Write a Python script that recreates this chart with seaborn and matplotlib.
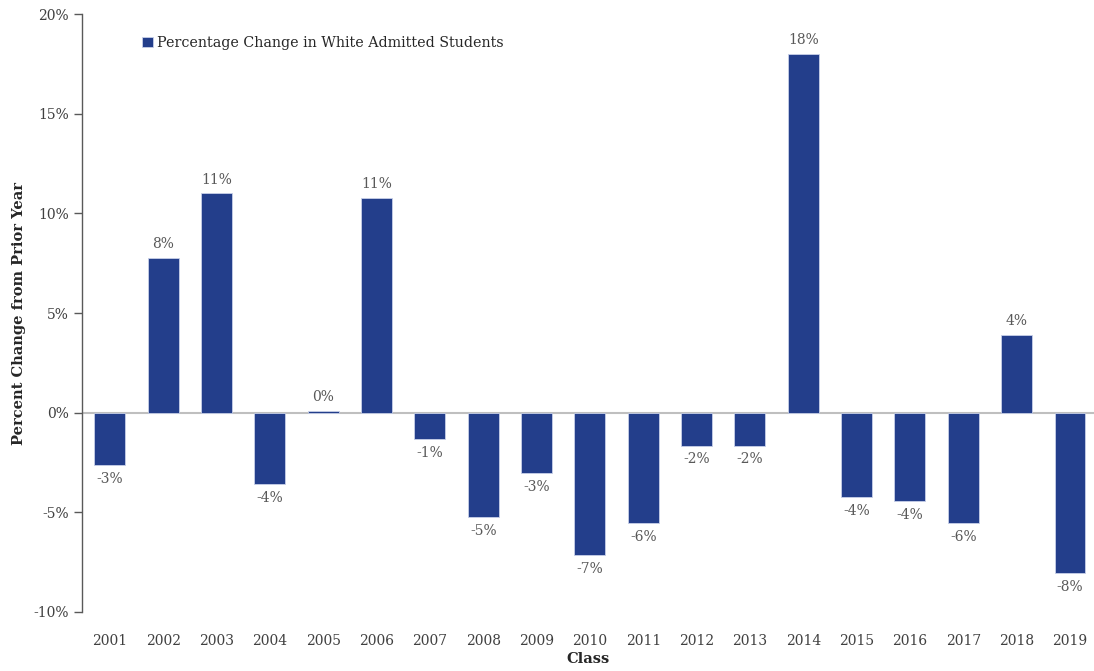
import numpy as np
import pandas as pd
import seaborn as sns
import matplotlib.pyplot as plt
from matplotlib.ticker import FuncFormatter

# data
years = [str(y) for y in range(2001, 2020)]
pct_change = [-2.65, 7.75, 11.0, -3.6, 0.1, 10.75, -1.3, -5.25, -3.05, -7.15,
              -5.55, -1.65, -1.65, 18.0, -4.25, -4.45, -5.55, 3.9, -8.05]
y_ticks = [-10, -5, 0, 5, 10, 15, 20]

BAR_COLOR = "#233e8b"
TEXT_COLOR = "#404040"
LABEL_COLOR = "#595959"

sns.set_theme(style="white")
plt.rcParams['font.family'] = ['DejaVu Serif', 'Liberation Serif']

df = pd.DataFrame({"Class": years, "Change": pct_change})

fig = plt.figure(figsize=(10.94, 6.71), dpi=100)
ax = fig.add_axes([0.075, 0.088, 0.925, 0.891])

sns.barplot(data=df, x="Class", y="Change", order=years, color=BAR_COLOR,
            width=0.58, edgecolor="#c8d0e8", linewidth=0.6, saturation=1,
            label="Percentage Change in White Admitted Students", ax=ax)

# value labels above / below each bar
for patch, v in zip(ax.patches, pct_change):
    x = patch.get_x() + patch.get_width() / 2
    if v >= 0:
        ax.annotate(f"{v:.0f}%", (x, v), xytext=(0, 5), textcoords="offset points",
                    ha="center", va="bottom", fontsize=10, color=LABEL_COLOR)
    else:
        ax.annotate(f"{v:.0f}%", (x, v), xytext=(0, -5), textcoords="offset points",
                    ha="center", va="top", fontsize=10, color=LABEL_COLOR)

ax.axhline(0, color="#bfbfbf", linewidth=1.5, zorder=0.5)

ax.set_ylim(-10, 20)
ax.set_xlim(-0.52, 18.45)
ax.set_yticks(y_ticks)
ax.yaxis.set_major_formatter(FuncFormatter(lambda v, _: f"{v:.0f}%"))
ax.tick_params(axis="y", which="both", left=True, length=6, width=1,
               color="#595959", labelsize=10, labelcolor=TEXT_COLOR, direction="out")
ax.tick_params(axis="x", bottom=False, labelsize=10, labelcolor=TEXT_COLOR, pad=10)

for side in ["top", "right", "bottom"]:
    ax.spines[side].set_visible(False)
ax.spines["left"].set_color("#595959")
ax.spines["left"].set_linewidth(1)

ax.set_xlabel("Class", fontsize=10.5, fontweight="bold", color="#262626", labelpad=3)
ax.set_ylabel("Percent Change from Prior Year", fontsize=10.5, fontweight="bold",
              color="#262626", labelpad=5)

leg = ax.legend(loc="upper left", bbox_to_anchor=(0.047, 0.985), frameon=False,
                fontsize=10.3, handlelength=0.7, handleheight=0.7, handletextpad=0.3)
for t in leg.get_texts():
    t.set_color("#262626")

fig.savefig("out.png", dpi=100)
